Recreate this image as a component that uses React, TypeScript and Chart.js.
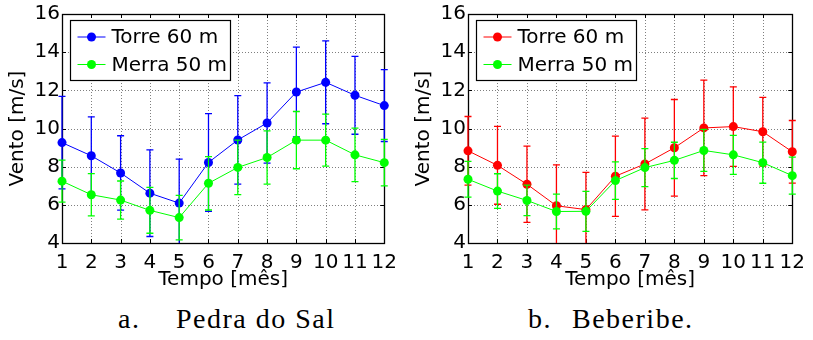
import React, { useEffect, useRef } from 'react';
import { Chart, registerables } from 'chart.js';

Chart.register(...registerables);

// ---------- data ----------
const months = [1, 2, 3, 4, 5, 6, 7, 8, 9, 10, 11, 12];
const yTickValues = [4, 6, 8, 10, 12, 14, 16];

// a. Pedra do Sal
const torrePedra = [9.26, 8.57, 7.67, 6.61, 6.09, 8.22, 9.4, 10.29, 11.91, 12.42, 11.74, 11.2];
const torrePedraErr = [2.42, 2.04, 1.95, 2.27, 2.3, 2.56, 2.32, 2.1, 2.35, 2.17, 2.04, 1.88];
const merraPedra = [7.24, 6.53, 6.25, 5.71, 5.33, 7.13, 7.96, 8.48, 9.39, 9.39, 8.62, 8.21];
const merraPedraErr = [1.1, 1.11, 1.0, 1.2, 1.17, 1.4, 1.43, 1.4, 1.5, 1.36, 1.4, 1.22];

// b. Beberibe
const torreBeberibe = [8.83, 8.07, 7.08, 5.95, 5.75, 7.5, 8.14, 8.99, 10.03, 10.1, 9.83, 8.78];
const torreBeberibeErr = [1.8, 2.04, 2.0, 2.14, 1.95, 2.1, 2.4, 2.53, 2.5, 2.08, 1.8, 1.64];
const merraBeberibe = [7.34, 6.72, 6.23, 5.65, 5.66, 7.27, 7.95, 8.33, 8.85, 8.62, 8.21, 7.53];
const merraBeberibeErr = [0.94, 0.91, 0.8, 0.91, 1.05, 0.98, 1.0, 0.95, 1.1, 1.02, 1.08, 0.97];

const labelTorre = 'Torre 60 m';
const labelMerra = 'Merra 50 m';
const xTitle = 'Tempo [mês]';
const yTitle = 'Vento [m/s]';
const captionA = ['a.', 'Pedra do Sal'];
const captionB = ['b.', 'Beberibe.'];

const FONT = '"DejaVu Sans", sans-serif';

// ---------- plugin ----------
const matlabPlugin = {
  id: 'matlabDecor',
  beforeDatasetsDraw(chart: any) {
    const { ctx, chartArea: a, scales } = chart;
    const x = scales.x;
    const y = scales.y;
    ctx.save();
    // dotted grid
    ctx.strokeStyle = 'rgba(0,0,0,0.5)';
    ctx.lineWidth = 1;
    ctx.setLineDash([1, 2]);
    months.forEach((m, i) => {
      if (i === 0 || i === months.length - 1) return;
      const px = Math.round(x.getPixelForValue(m)) + 0.5;
      ctx.beginPath();
      ctx.moveTo(px, a.top);
      ctx.lineTo(px, a.bottom);
      ctx.stroke();
    });
    yTickValues.forEach((v, i) => {
      if (i === 0 || i === yTickValues.length - 1) return;
      const py = Math.round(y.getPixelForValue(v)) + 0.5;
      ctx.beginPath();
      ctx.moveTo(a.left, py);
      ctx.lineTo(a.right, py);
      ctx.stroke();
    });
    ctx.setLineDash([]);
    // inner tick marks
    ctx.strokeStyle = '#000';
    const tl = 4;
    months.forEach((m) => {
      const px = Math.round(x.getPixelForValue(m)) + 0.5;
      ctx.beginPath();
      ctx.moveTo(px, a.bottom);
      ctx.lineTo(px, a.bottom - tl);
      ctx.moveTo(px, a.top);
      ctx.lineTo(px, a.top + tl);
      ctx.stroke();
    });
    yTickValues.forEach((v) => {
      const py = Math.round(y.getPixelForValue(v)) + 0.5;
      ctx.beginPath();
      ctx.moveTo(a.left, py);
      ctx.lineTo(a.left + tl, py);
      ctx.moveTo(a.right, py);
      ctx.lineTo(a.right - tl, py);
      ctx.stroke();
    });
    // box
    ctx.lineWidth = 1.3;
    ctx.strokeRect(Math.round(a.left) + 0.5, Math.round(a.top) + 0.5, Math.round(a.right - a.left), Math.round(a.bottom - a.top));
    ctx.restore();
  },
  beforeDatasetDraw(chart: any, args: any) {
    const ds = chart.data.datasets[args.index];
    if (!ds.errors) return;
    const { ctx, chartArea: a, scales } = chart;
    const x = scales.x;
    const y = scales.y;
    ctx.save();
    ctx.beginPath();
    ctx.rect(a.left - 6, a.top, a.right - a.left + 12, a.bottom - a.top);
    ctx.clip();
    ctx.strokeStyle = ds.borderColor;
    ctx.lineWidth = 1.3;
    const cap = 3.5;
    ds.data.forEach((pt: any, i: number) => {
      const e = ds.errors[i];
      const px = x.getPixelForValue(pt.x);
      const pTop = y.getPixelForValue(pt.y + e);
      const pBot = y.getPixelForValue(pt.y - e);
      ctx.beginPath();
      ctx.moveTo(px, pTop);
      ctx.lineTo(px, pBot);
      ctx.moveTo(px - cap, pTop);
      ctx.lineTo(px + cap, pTop);
      ctx.moveTo(px - cap, pBot);
      ctx.lineTo(px + cap, pBot);
      ctx.stroke();
    });
    ctx.restore();
  },
  afterDraw(chart: any) {
    const { ctx, chartArea: a } = chart;
    const datasets = chart.data.datasets;
    const bx = Math.round(a.left) + 8.5;
    const by = Math.round(a.top) + 6.5;
    const bw = 160;
    const bh = 60;
    ctx.save();
    ctx.fillStyle = '#fff';
    ctx.fillRect(bx, by, bw, bh);
    ctx.strokeStyle = '#000';
    ctx.lineWidth = 1.2;
    ctx.strokeRect(bx, by, bw, bh);
    ctx.font = '20px ' + FONT;
    ctx.textBaseline = 'middle';
    ctx.textAlign = 'left';
    datasets.forEach((ds: any, i: number) => {
      const ry = by + 16.5 + i * 27.5;
      ctx.strokeStyle = ds.borderColor;
      ctx.lineWidth = 1;
      ctx.beginPath();
      ctx.moveTo(bx + 7, ry);
      ctx.lineTo(bx + 35, ry);
      ctx.stroke();
      ctx.fillStyle = ds.borderColor;
      ctx.beginPath();
      ctx.arc(bx + 21, ry, 4.5, 0, Math.PI * 2);
      ctx.fill();
      ctx.fillStyle = '#000';
      ctx.fillText(ds.label, bx + 41, ry + 1);
    });
    ctx.restore();
  },
};

function makeDataset(label: string, values: number[], errors: number[], color: string, order: number) {
  return {
    label,
    data: months.map((m, i) => ({ x: m, y: values[i] })),
    errors,
    borderColor: color,
    backgroundColor: color,
    borderWidth: 1,
    pointRadius: 4.5,
    pointHoverRadius: 4.5,
    pointBorderWidth: 0,
    pointBackgroundColor: color,
    tension: 0,
    clip: false,
    order,
  };
}

function makeConfig(datasets: any[]): any {
  return {
    type: 'line',
    data: { datasets },
    plugins: [matlabPlugin],
    options: {
      responsive: false,
      animation: false,
      events: [],
      layout: { padding: { left: 0, top: 12, right: 16, bottom: 0 } },
      plugins: { legend: { display: false }, tooltip: { enabled: false } },
      scales: {
        x: {
          type: 'linear',
          min: 1,
          max: 12,
          afterBuildTicks: (s: any) => {
            s.ticks = months.map((v) => ({ value: v }));
          },
          afterFit: (s: any) => {
            s.height = 49;
          },
          grid: { display: false, drawTicks: false },
          border: { display: false },
          ticks: {
            color: '#000',
            font: { family: FONT, size: 20 },
            padding: 8,
            maxRotation: 0,
            autoSkip: false,
          },
          title: {
            display: true,
            text: xTitle,
            color: '#000',
            font: { family: FONT, size: 20, lineHeight: 1.2 },
            padding: { top: 0, bottom: 0 },
          },
        },
        y: {
          type: 'linear',
          min: 4,
          max: 16,
          afterBuildTicks: (s: any) => {
            s.ticks = yTickValues.map((v) => ({ value: v }));
          },
          afterFit: (s: any) => {
            s.width = 62;
          },
          grid: { display: false, drawTicks: false },
          border: { display: false },
          ticks: {
            color: '#000',
            font: { family: FONT, size: 20 },
            padding: 2,
          },
          title: {
            display: true,
            text: yTitle,
            color: '#000',
            font: { family: FONT, size: 20, lineHeight: 1.2 },
            padding: { top: 6, bottom: 0 },
          },
        },
      },
    },
  };
}

function Panel(props: { left: number; width: number; datasets: any[] }) {
  const ref = useRef<HTMLCanvasElement | null>(null);
  useEffect(() => {
    if (!ref.current) return;
    const chart = new Chart(ref.current, makeConfig(props.datasets));
    return () => chart.destroy();
  }, []);
  return (
    <canvas
      ref={ref}
      width={props.width}
      height={292}
      style={{ position: 'absolute', left: props.left, top: 0, width: props.width, height: 292 }}
    />
  );
}

const captionStyle: React.CSSProperties = {
  position: 'absolute',
  top: 302,
  fontFamily: '"Liberation Serif", serif',
  fontSize: 28,
  color: '#000',
  whiteSpace: 'nowrap',
  lineHeight: '34px',
  letterSpacing: '1.5px',
};

export default function App() {
  const dsA = [
    makeDataset(labelTorre, torrePedra, torrePedraErr, '#0000ff', 2),
    makeDataset(labelMerra, merraPedra, merraPedraErr, '#00ff00', 1),
  ];
  const dsB = [
    makeDataset(labelTorre, torreBeberibe, torreBeberibeErr, '#ff0000', 2),
    makeDataset(labelMerra, merraBeberibe, merraBeberibeErr, '#00ff00', 1),
  ];
  return (
    <div style={{ position: 'absolute', left: 0, top: 0, width: 813, height: 340, background: '#fff', overflow: 'hidden' }}>
      <Panel left={0} width={405} datasets={dsA} />
      <Panel left={406} width={407} datasets={dsB} />
      <div style={{ ...captionStyle, left: 118 }}>{captionA[0]}</div>
      <div style={{ ...captionStyle, left: 176 }}>{captionA[1]}</div>
      <div style={{ ...captionStyle, left: 528 }}>{captionB[0]}</div>
      <div style={{ ...captionStyle, left: 572 }}>{captionB[1]}</div>
    </div>
  );
}
